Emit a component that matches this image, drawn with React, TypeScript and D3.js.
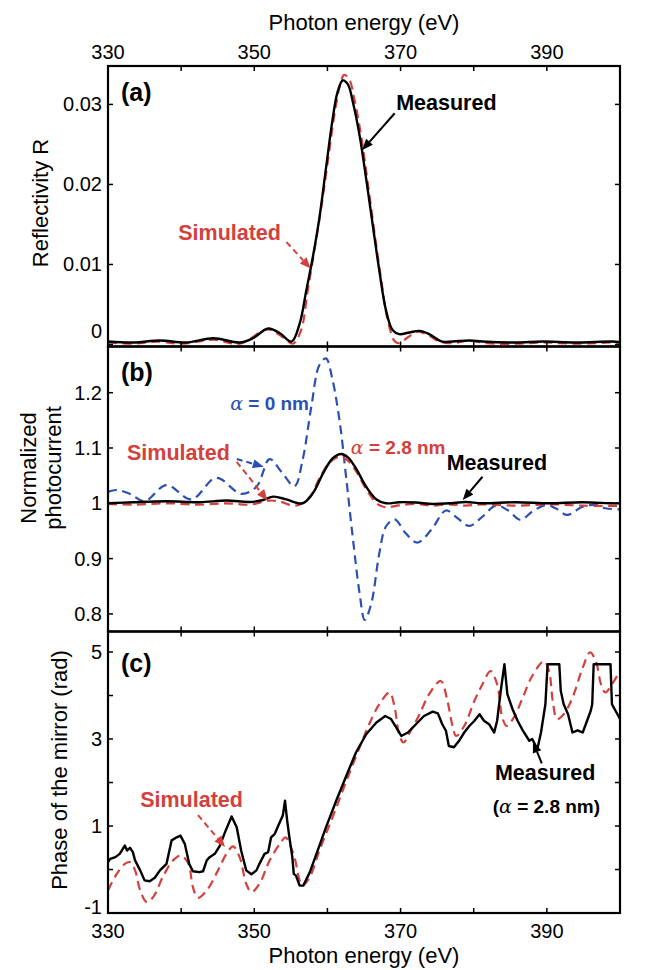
import React from 'react';
import * as d3 from 'd3';

// ---------- tick values ----------
const energyTicks = [330, 340, 350, 360, 370, 380, 390, 400];
const energyLabels = [330, 350, 370, 390];
const reflTicks = [0, 0.01, 0.02, 0.03];
const photoTicks = [0.8, 0.9, 1, 1.1, 1.2];
const phaseTicks = [-1, 0, 1, 2, 3, 4, 5];
const phaseLabels = [-1, 1, 3, 5];

type P = [number, number];

// ---------- (a) reflectivity ----------
const reflMeasured: P[] = [
  [330, 0.00037], [333.5, 0.00025], [337.1, 0.0005], [340.7, 0.00025], [344.4, 0.00078],
  [348.0, 0.00025], [349.8, 0.00078], [351.9, 0.002], [353.5, 0.0014], [355.1, 0.00037],
  [356.2, 0.0026], [357.1, 0.0067], [358.0, 0.0109], [358.9, 0.0158], [359.8, 0.022],
  [360.7, 0.0281], [361.4, 0.0316], [362.1, 0.033], [362.8, 0.0325], [363.5, 0.0302],
  [364.4, 0.0261], [365.3, 0.0207], [366.2, 0.0149], [367.1, 0.0092], [368.0, 0.0043],
  [368.9, 0.0018], [369.8, 0.0013], [371.2, 0.0015], [372.6, 0.0017], [373.9, 0.0013],
  [375.7, 0.00037], [377.1, 0.00037], [379.4, 0.0005], [381.2, 0.00037], [385.8, 0.00025],
  [389.4, 0.00037], [393.9, 0.00025], [398.9, 0.00037], [400, 0.0003],
];
const reflSimulated: P[] = [
  [330, 0.00025], [333.5, 0.0001], [336.6, 0.00037], [340.3, 0.0001], [344.4, 0.0006],
  [348.0, 0.0001], [351.9, 0.0019], [353.9, 0.0009], [355.3, 0.0001], [356.4, 0.0018],
  [357.3, 0.0067], [358.2, 0.0117], [359.2, 0.0174], [360.1, 0.0232], [361.0, 0.029],
  [361.7, 0.0323], [362.3, 0.0337], [363.0, 0.0331], [363.7, 0.0306], [364.6, 0.0261],
  [365.5, 0.0203], [366.4, 0.0142], [367.3, 0.0084], [368.2, 0.0032], [369.2, 0.0004],
  [369.8, 0.00016], [371.0, 0.0009], [372.3, 0.0016], [373.7, 0.0012], [375.3, 0.00037],
  [377.1, 0.00016], [379.4, 0.0005], [381.7, 0.00016], [385.8, 0.0001], [389.4, 0.00025],
  [393.9, 0.0001], [398.9, 0.00025], [400, 0.0002],
];

// ---------- (b) normalized photocurrent ----------
const photoMeasured: P[] = [
  [330, 1.0], [333.5, 1.002], [338.0, 1.0036], [342.5, 1.002], [346.2, 1.005],
  [349.4, 1.0024], [351.2, 1.006], [352.6, 1.012], [354.4, 1.007], [356.6, 1.0],
  [358.0, 1.018], [359.4, 1.054], [360.7, 1.081], [361.9, 1.089], [362.8, 1.083],
  [363.9, 1.063], [365.3, 1.03], [366.7, 1.007], [368.0, 1.0], [369.8, 1.002],
  [372.1, 1.0015], [374.4, 0.9988], [376.6, 1.0], [378.9, 1.0024], [381.2, 1.0],
  [385.8, 1.002], [390.3, 1.0], [394.9, 1.002], [398.9, 1.0], [400, 1.0],
];
const photoSim28: P[] = [
  [330, 0.9988], [333.5, 0.9976], [338.0, 1.0], [342.5, 0.9976], [346.2, 1.0],
  [349.4, 0.9976], [352.1, 1.005], [353.5, 1.003], [355.7, 0.9958], [357.6, 1.012],
  [358.9, 1.045], [360.3, 1.074], [361.7, 1.084], [362.8, 1.077], [364.1, 1.054],
  [365.5, 1.021], [366.9, 0.9982], [368.0, 0.9928], [369.8, 0.9964], [372.1, 0.9988],
  [374.4, 0.9958], [376.6, 0.9982], [378.9, 0.9958], [381.2, 0.9982], [385.8, 0.9958],
  [390.3, 0.9982], [394.9, 0.9958], [398.9, 0.9952], [400, 0.9955],
];
const photoSim0: P[] = [
  [330, 1.021], [331.2, 1.024], [333.0, 1.017], [335.0, 1.004], [338.0, 1.033],
  [341.4, 1.007], [344.8, 1.046], [348.2, 1.017], [350.3, 1.03], [352.1, 1.08],
  [353.7, 1.057], [355.5, 1.031], [356.6, 1.078], [357.8, 1.175], [358.9, 1.25],
  [359.8, 1.262], [360.7, 1.223], [361.7, 1.145], [362.6, 1.042], [363.5, 0.934],
  [364.4, 0.837], [365.1, 0.789], [366.0, 0.819], [367.1, 0.91], [368.0, 0.958],
  [369.2, 0.971], [370.7, 0.946], [372.3, 0.929], [374.2, 0.952], [376.2, 0.987],
  [377.8, 0.973], [379.4, 0.959], [381.2, 0.976], [383.0, 0.9958], [384.6, 0.988],
  [386.4, 0.97], [388.0, 0.985], [389.9, 0.997], [391.2, 0.991], [392.8, 0.979],
  [394.9, 0.994], [396.7, 0.997], [398.0, 0.991], [400, 0.989],
];

// ---------- (c) phase ----------
const phaseMeasured: P[] = [
  [330, 0.17], [330.3, 0.245], [331.0, 0.284], [331.6, 0.36], [332.3, 0.55], [332.6, 0.436],
  [333.0, 0.5], [333.4, 0.4], [333.7, 0.21], [334.4, -0.02], [335.0, -0.25], [335.7, -0.27],
  [336.4, -0.19], [337.1, -0.02], [338.0, 0.13], [338.7, 0.67], [339.4, 0.74], [339.9, 0.78],
  [340.5, 0.59], [341.1, 0.13], [341.6, -0.04], [342.5, -0.06], [343.0, -0.04], [343.5, 0.21],
  [343.9, 0.284], [344.6, 0.36], [345.3, 0.55], [346.0, 0.86], [346.9, 1.22], [347.6, 0.97],
  [348.2, 0.436], [348.9, -0.02], [349.6, -0.11], [350.3, -0.02], [350.7, 0.13], [351.4, 0.36],
  [351.9, 0.4], [352.3, 0.74], [352.8, 0.82], [353.5, 1.09], [353.9, 1.24], [354.2, 1.58],
  [354.5, 1.12], [354.8, 0.74], [355.2, 0.284], [355.4, -0.1], [355.7, -0.14], [356.2, -0.37],
  [356.7, -0.37], [357.6, -0.06], [358.5, 0.36], [359.8, 0.97], [361.2, 1.58], [362.6, 2.16],
  [363.9, 2.69], [365.3, 3.11], [366.7, 3.38], [367.9, 3.53], [368.7, 3.46], [369.4, 3.27],
  [370.1, 3.07], [371.0, 3.15], [372.1, 3.34], [373.2, 3.53], [374.4, 3.63], [375.1, 3.59],
  [375.7, 3.34], [376.2, 3.19], [376.6, 2.84], [377.3, 2.81], [378.0, 2.96], [378.7, 3.15],
  [379.4, 3.3], [380.1, 3.42], [380.8, 3.57], [381.4, 3.42], [382.1, 3.34], [382.8, 3.15],
  [383.2, 3.42], [383.7, 4.11], [384.2, 4.72], [384.6, 4.03], [385.3, 3.69], [386.0, 3.42],
  [386.7, 3.2], [387.6, 2.96], [388.0, 3.0], [388.7, 2.77], [389.2, 3.15], [389.8, 3.8],
  [390.1, 4.72], [391.7, 4.72], [391.9, 4.11], [392.3, 3.8], [392.9, 3.57], [393.5, 3.15],
  [394.2, 3.2], [394.9, 3.15], [395.5, 3.42], [396.0, 3.65], [396.2, 3.8], [396.4, 4.72],
  [398.7, 4.72], [398.9, 3.8], [400, 3.46],
];
const phaseSimulated: P[] = [
  [330, -0.48], [331.2, -0.1], [332.3, 0.13], [333.0, 0.17], [333.7, -0.02], [334.4, -0.48],
  [335.3, -0.75], [336.2, -0.63], [337.5, -0.17], [338.9, 0.21], [340.0, 0.32], [341.0, 0.13],
  [341.6, -0.4], [342.3, -0.65], [343.5, -0.48], [344.8, -0.1], [346.2, 0.36], [347.1, 0.53],
  [348.0, 0.284], [348.9, -0.33], [349.6, -0.52], [350.7, -0.33], [352.1, 0.21], [353.5, 0.59],
  [354.3, 0.74], [354.8, 0.59], [355.5, 0.284], [356.2, -0.25], [356.6, -0.37], [357.6, -0.17],
  [358.9, 0.436], [360.7, 1.2], [362.6, 2.04], [364.4, 2.81], [365.7, 3.34], [367.1, 3.8],
  [368.5, 4.07], [369.2, 3.72], [369.8, 3.11], [370.4, 2.92], [371.4, 3.19], [372.6, 3.57],
  [373.9, 4.03], [375.5, 4.335], [376.4, 3.88], [377.1, 3.3], [377.6, 3.07], [378.7, 3.3],
  [380.1, 3.88], [381.2, 4.26], [382.3, 4.56], [383.2, 4.26], [383.9, 3.5], [384.5, 3.3],
  [385.5, 3.5], [386.7, 3.95], [388.0, 4.45], [389.6, 4.79], [390.3, 4.56], [390.8, 3.88],
  [391.4, 3.46], [392.3, 3.57], [393.5, 3.95], [394.9, 4.64], [395.9, 4.99], [396.7, 4.79],
  [397.4, 4.26], [398.0, 4.07], [398.9, 4.26], [400, 4.56],
];

// ---------- layout ----------
const W = 645;
const H = 970;
const X0 = 108;
const X1 = 620;
const TOP_A = 66;
const MID_AB = 346.5;
const MID_BC = 631.5;
const BOT_C = 913;

const RED = '#d4403b';
const BLUE = '#2c50b2';
const FONT = '"Liberation Sans", Arial, Helvetica, sans-serif';
const TICK = 5;
const DASH = '9,5.5';

const x = d3.scaleLinear().domain([330, 400]).range([X0, X1]);
const yA = d3.scaleLinear().domain([-0.00025, 0.03480]).range([MID_AB, TOP_A]);
const yB = d3.scaleLinear().domain([0.7682, 1.2835]).range([MID_BC, MID_AB]);
const yC = d3.scaleLinear().domain([-1, 5.472]).range([BOT_C, MID_BC]);

function mkLine(y: d3.ScaleLinear<number, number>, smooth: boolean) {
  const l = d3.line<P>().x((d) => x(d[0])).y((d) => y(d[1]));
  return smooth ? l.curve(d3.curveCatmullRom.alpha(0.5)) : l;
}

function Arrow({ x1, y1, x2, y2, color, dashed }: any) {
  const ang = Math.atan2(y2 - y1, x2 - x1);
  const L = 11;
  const Wd = 4.5;
  const bx = x2 - L * Math.cos(ang);
  const by = y2 - L * Math.sin(ang);
  const px = -Math.sin(ang) * Wd;
  const py = Math.cos(ang) * Wd;
  return (
    <g>
      <line x1={x1} y1={y1} x2={bx} y2={by} stroke={color} strokeWidth={2}
        strokeDasharray={dashed ? '6,4' : undefined} />
      <polygon points={`${x2},${y2} ${bx + px},${by + py} ${bx - px},${by - py}`} fill={color} />
    </g>
  );
}

function Frame({ top, bottom, y, ticks }: any) {
  return (
    <g>
      {energyTicks.map((t) => (
        <g key={'x' + t}>
          <line x1={x(t)} x2={x(t)} y1={top} y2={top + TICK} stroke="#000" strokeWidth={1.5} />
          <line x1={x(t)} x2={x(t)} y1={bottom} y2={bottom - TICK} stroke="#000" strokeWidth={1.5} />
        </g>
      ))}
      {ticks.map((t: number) => (
        <g key={'y' + t}>
          <line x1={X0} x2={X0 + TICK} y1={y(t)} y2={y(t)} stroke="#000" strokeWidth={1.5} />
          <line x1={X1} x2={X1 - TICK} y1={y(t)} y2={y(t)} stroke="#000" strokeWidth={1.5} />
        </g>
      ))}
      <rect x={X0} y={top} width={X1 - X0} height={bottom - top} fill="none" stroke="#000" strokeWidth={2.2} />
    </g>
  );
}

export default function App() {
  const la = mkLine(yA, true);
  const lb = mkLine(yB, true);
  const lcS = mkLine(yC, true);
  const lcM = mkLine(yC, false);

  const boldText = { fontFamily: FONT, fontWeight: 700 } as const;

  return (
    <svg width={W} height={H} viewBox={`0 0 ${W} ${H}`}
      style={{ position: 'absolute', left: 0, top: 0, background: '#fff' }}>
      <defs>
        <clipPath id="ca"><rect x={X0} y={TOP_A} width={X1 - X0} height={MID_AB - TOP_A} /></clipPath>
        <clipPath id="cb"><rect x={X0} y={MID_AB} width={X1 - X0} height={MID_BC - MID_AB} /></clipPath>
        <clipPath id="cc"><rect x={X0} y={MID_BC} width={X1 - X0} height={BOT_C - MID_BC} /></clipPath>
      </defs>
      <rect x={0} y={0} width={W} height={H} fill="#fff" />

      {/* titles */}
      <text x={(X0 + X1) / 2} y={30} textAnchor="middle" fontFamily={FONT} fontSize={22}>Photon energy (eV)</text>
      <text x={(X0 + X1) / 2} y={963} textAnchor="middle" fontFamily={FONT} fontSize={22}>Photon energy (eV)</text>
      {energyLabels.map((t) => (
        <g key={'el' + t}>
          <text x={x(t)} y={59} textAnchor="middle" fontFamily={FONT} fontSize={20}>{t}</text>
          <text x={x(t)} y={938} textAnchor="middle" fontFamily={FONT} fontSize={20}>{t}</text>
        </g>
      ))}

      {/* y tick labels */}
      {reflTicks.map((t) => (
        <text key={'ra' + t} x={102} y={yA(t)} dy={t === 0 ? -6 : 7} textAnchor="end" fontFamily={FONT} fontSize={20}>{t === 0 ? '0' : t.toFixed(2)}</text>
      ))}
      {photoTicks.map((t) => (
        <text key={'pb' + t} x={102} y={yB(t)} dy={7} textAnchor="end" fontFamily={FONT} fontSize={20}>{t === 1 ? '1' : t.toFixed(1)}</text>
      ))}
      {phaseLabels.map((t) => (
        <text key={'pc' + t} x={102} y={yC(t)} dy={t === -1 ? 1 : 7} textAnchor="end" fontFamily={FONT} fontSize={20}>{t}</text>
      ))}

      {/* y titles */}
      <text transform="translate(48,203) rotate(-90)" textAnchor="middle" fontFamily={FONT} fontSize={22}>Reflectivity R</text>
      <text transform="translate(36,468) rotate(-90)" textAnchor="middle" fontFamily={FONT} fontSize={22}>Normalized</text>
      <text transform="translate(61,468) rotate(-90)" textAnchor="middle" fontFamily={FONT} fontSize={22}>photocurrent</text>
      <text transform="translate(67,770) rotate(-90)" textAnchor="middle" fontFamily={FONT} fontSize={22}>Phase of the mirror (rad)</text>

      {/* panel a */}
      <g clipPath="url(#ca)">
        <path d={la(reflSimulated) || ''} fill="none" stroke={RED} strokeWidth={2.2} strokeDasharray={DASH} />
        <path d={la(reflMeasured) || ''} fill="none" stroke="#000" strokeWidth={2.4} />
      </g>
      {/* panel b */}
      <g clipPath="url(#cb)">
        <path d={lb(photoSim0) || ''} fill="none" stroke={BLUE} strokeWidth={2.2} strokeDasharray={DASH} />
        <path d={lb(photoSim28) || ''} fill="none" stroke={RED} strokeWidth={2.2} strokeDasharray={DASH} />
        <path d={lb(photoMeasured) || ''} fill="none" stroke="#000" strokeWidth={2.4} />
      </g>
      {/* panel c */}
      <g clipPath="url(#cc)">
        <path d={lcS(phaseSimulated) || ''} fill="none" stroke={RED} strokeWidth={2.2} strokeDasharray={DASH} />
        <path d={lcM(phaseMeasured) || ''} fill="none" stroke="#000" strokeWidth={2.4} strokeLinejoin="round" />
      </g>

      <Frame top={TOP_A} bottom={MID_AB} y={yA} ticks={reflTicks} />
      <Frame top={MID_AB} bottom={MID_BC} y={yB} ticks={photoTicks} />
      <Frame top={MID_BC} bottom={BOT_C} y={yC} ticks={phaseTicks} />

      {/* panel labels */}
      <text x={X0 + 13} y={TOP_A + 35} {...boldText} fontSize={25}>(a)</text>
      <text x={X0 + 13} y={MID_AB + 34} {...boldText} fontSize={25}>(b)</text>
      <text x={X0 + 13} y={MID_BC + 40} {...boldText} fontSize={25}>(c)</text>

      {/* annotations a */}
      <text x={x(369.4)} y={yA(0.0293)} {...boldText} fontSize={21.5} fill="#000">Measured</text>
      <Arrow x1={x(369.2)} y1={yA(0.0289)} x2={x(364.75)} y2={yA(0.0243)} color="#000" />
      <text x={x(339.6)} y={yA(0.0131)} {...boldText} fontSize={21.5} fill={RED}>Simulated</text>
      <Arrow x1={x(354.4)} y1={yA(0.0128)} x2={x(357.7)} y2={yA(0.0095)} color={RED} dashed />

      {/* annotations b */}
      <text x={x(346.7)} y={yB(1.169)} {...boldText} fontSize={19} fill={BLUE}>
        <tspan fontFamily='"DejaVu Serif", serif' fontStyle="italic" fontWeight={400}>α</tspan> = 0 nm
      </text>
      <text x={x(332.6)} y={yB(1.078)} {...boldText} fontSize={21.5} fill={RED}>Simulated</text>
      <text x={x(363.2)} y={yB(1.090)} {...boldText} fontSize={19} fill={RED}>
        <tspan fontFamily='"DejaVu Serif", serif' fontStyle="italic" fontWeight={400}>α</tspan> = 2.8 nm
      </text>
      <text x={x(376.3)} y={yB(1.061)} {...boldText} fontSize={21.5} fill="#000">Measured</text>
      <Arrow x1={x(381.2)} y1={yB(1.048)} x2={x(378.5)} y2={yB(1.006)} color="#000" />
      <Arrow x1={x(347.6)} y1={yB(1.080)} x2={x(351.3)} y2={yB(1.066)} color={BLUE} dashed />
      <Arrow x1={x(347.6)} y1={yB(1.075)} x2={x(351.8)} y2={yB(1.005)} color={RED} dashed />

      {/* annotations c */}
      <text x={x(334.4)} y={yC(1.444)} {...boldText} fontSize={21.5} fill={RED}>Simulated</text>
      <Arrow x1={x(342.3)} y1={yC(1.25)} x2={x(346.0)} y2={yC(0.52)} color={RED} dashed />
      <text x={x(382.9)} y={yC(2.057)} {...boldText} fontSize={21.5} fill="#000">Measured</text>
      <text x={x(382.6)} y={yC(1.29)} {...boldText} fontSize={19} fill="#000">
        (<tspan fontFamily='"DejaVu Serif", serif' fontStyle="italic" fontWeight={400}>α</tspan> = 2.8 nm)
      </text>
      <Arrow x1={x(389.3)} y1={yC(2.44)} x2={x(388.1)} y2={yC(2.94)} color="#000" />
    </svg>
  );
}
